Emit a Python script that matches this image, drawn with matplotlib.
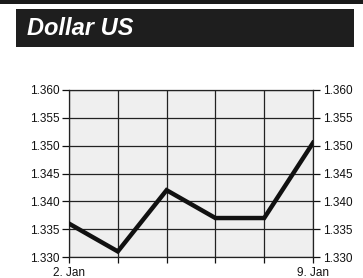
import matplotlib
matplotlib.use("Agg")
import matplotlib.pyplot as plt
from matplotlib.patches import Rectangle

days = ["2. Jan", "", "", "", "", "9. Jan"]
values = [1.336, 1.331, 1.342, 1.337, 1.337, 1.3505]
yticks = [1.330, 1.335, 1.340, 1.345, 1.350, 1.355, 1.360]
ytick_labels = ["1.330", "1.335", "1.340", "1.345", "1.350", "1.355", "1.360"]
title = "Dollar US"

plt.rcParams['font.family'] = ['Liberation Sans', 'DejaVu Sans']

fig = plt.figure(figsize=(3.63, 2.78), dpi=100)
fig.patch.set_facecolor("white")

# title bar
fig.patches.append(Rectangle((0, 1 - 4/278), 1, 4/278, transform=fig.transFigure,
                             facecolor="#1a1a1a", edgecolor="none"))
fig.patches.append(Rectangle((16/363, 1 - 47/278), (354 - 16)/363, 38/278,
                             transform=fig.transFigure, facecolor="#1e1e1e", edgecolor="none"))
fig.text(27/363, 1 - 28.5/278, title, color="white", fontsize=17, fontweight="bold",
         fontstyle="italic", va="center", ha="left")

ax = fig.add_axes([69/363, 1 - 257/278, (313 - 69)/363, (257 - 90)/278])
ax.set_facecolor("#efefef")
x = list(range(len(values)))
ax.plot(x, values, color="#111111", linewidth=3.2, solid_joinstyle="miter", zorder=3)
ax.set_xlim(0, len(values) - 1)
ax.set_ylim(1.330, 1.360)
ax.set_yticks(yticks)
ax.set_yticklabels(ytick_labels)
ax.set_xticks(x)
ax.set_xticklabels(days)
ax.grid(True, color="#222222", linewidth=0.9)
for s in ax.spines.values():
    s.set_color("#222222")
    s.set_linewidth(0.9)
ax.tick_params(axis="y", which="both", direction="out", length=5, width=0.9,
               labelsize=8.5, left=True, right=True, labelleft=True, labelright=True,
               pad=2, colors="#111111")
ax.tick_params(axis="x", direction="out", length=4, width=0.9, labelsize=8.5,
               pad=3, colors="#111111")

fig.savefig("out.png", dpi=100)
